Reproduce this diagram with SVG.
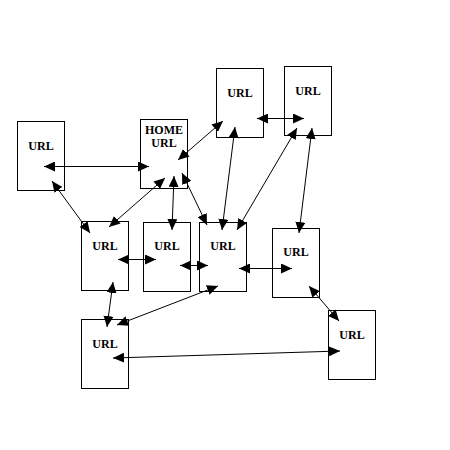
<svg xmlns="http://www.w3.org/2000/svg" width="450" height="450" viewBox="0 0 450 450">
<style>
.box{fill:#fff;stroke:#000;stroke-width:1}
.lbl{font-family:"Liberation Serif","Times New Roman",serif;font-size:12px;font-weight:bold;text-anchor:middle;fill:#000}
.c line{stroke:#000;stroke-width:1;marker-start:url(#ah);marker-end:url(#ah)}
</style>
<defs>
<marker id="ah" markerUnits="userSpaceOnUse" markerWidth="12" markerHeight="10" refX="11" refY="5" orient="auto-start-reverse" viewBox="0 0 12 10">
<path d="M0,0 L11,5 L0,10 z" fill="#000"/>
</marker>
</defs>
<rect width="450" height="450" fill="#fff"/>
<g id="nA"><rect class="box" x="17.5" y="121.5" width="47" height="69"/><text class="lbl" x="41" y="150">URL</text></g>
<g id="nHome"><rect class="box" x="140.5" y="119.5" width="47" height="69"/><text class="lbl" x="164" y="134">HOME</text><text class="lbl" x="164" y="147">URL</text></g>
<g id="nT1"><rect class="box" x="216.5" y="68.5" width="47" height="69"/><text class="lbl" x="240" y="97">URL</text></g>
<g id="nT2"><rect class="box" x="284.5" y="66.5" width="47" height="69"/><text class="lbl" x="308" y="95">URL</text></g>
<g id="nB"><rect class="box" x="81.5" y="221.5" width="47" height="69"/><text class="lbl" x="105" y="250">URL</text></g>
<g id="nC"><rect class="box" x="143.5" y="222.5" width="47" height="69"/><text class="lbl" x="167" y="250">URL</text></g>
<g id="nD"><rect class="box" x="199.5" y="222.5" width="47" height="69"/><text class="lbl" x="223" y="250">URL</text></g>
<g id="nE"><rect class="box" x="272.5" y="228.5" width="47" height="69"/><text class="lbl" x="296" y="256">URL</text></g>
<g id="nF"><rect class="box" x="328.5" y="310.5" width="47" height="69"/><text class="lbl" x="352" y="339">URL</text></g>
<g id="nG"><rect class="box" x="81.5" y="319.5" width="47" height="69"/><text class="lbl" x="105" y="348">URL</text></g>
<g id="connectors" class="c">
<line x1="44" y1="166.5" x2="149" y2="166.5"/>
<line x1="52" y1="181" x2="90" y2="233"/>
<line x1="165" y1="178" x2="109" y2="227"/>
<line x1="174" y1="176" x2="172" y2="230"/>
<line x1="182" y1="173" x2="207" y2="225"/>
<line x1="178" y1="160" x2="223" y2="121"/>
<line x1="257" y1="118.5" x2="304" y2="118.5"/>
<line x1="235" y1="127" x2="222" y2="230"/>
<line x1="297" y1="128" x2="237" y2="230"/>
<line x1="312" y1="128" x2="299" y2="233"/>
<line x1="239" y1="268.5" x2="292" y2="268.5"/>
<line x1="309" y1="286" x2="339" y2="321"/>
<line x1="118" y1="259.5" x2="156" y2="259.5"/>
<line x1="180" y1="265.5" x2="208" y2="265.5"/>
<line x1="113" y1="282" x2="107" y2="327"/>
<line x1="218" y1="286" x2="117" y2="325"/>
<line x1="113" y1="358" x2="340" y2="351"/>
</g>
</svg>
